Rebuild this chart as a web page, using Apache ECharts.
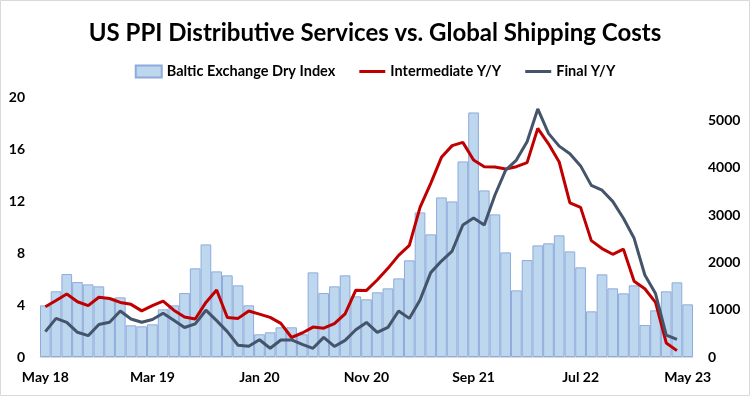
<!DOCTYPE html>
<html><head><meta charset="utf-8">
<script src="https://cdn.jsdelivr.net/npm/echarts@6/dist/echarts.min.js"></script>
<style>html,body{margin:0;padding:0;background:#fff}#c{width:750px;height:396px}</style>
</head><body><div id="c"></div>
<script>
const categories = [
"May 18","Jun 18","Jul 18","Aug 18","Sep 18","Oct 18","Nov 18","Dec 18",
"Jan 19","Feb 19","Mar 19","Apr 19","May 19","Jun 19","Jul 19","Aug 19","Sep 19","Oct 19","Nov 19","Dec 19",
"Jan 20","Feb 20","Mar 20","Apr 20","May 20","Jun 20","Jul 20","Aug 20","Sep 20","Oct 20","Nov 20","Dec 20",
"Jan 21","Feb 21","Mar 21","Apr 21","May 21","Jun 21","Jul 21","Aug 21","Sep 21","Oct 21","Nov 21","Dec 21",
"Jan 22","Feb 22","Mar 22","Apr 22","May 22","Jun 22","Jul 22","Aug 22","Sep 22","Oct 22","Nov 22","Dec 22",
"Jan 23","Feb 23","Mar 23","Apr 23","May 23"];
const balticDryIndex = [1093,1389,1755,1585,1536,1494,1250,1262,670,649,
 691,1008,1093,1353,1875,2382,1811,1727,1516,1093,
 480,522,628,628,480,1790,1353,1494,1727,1283,
 1220,1368,1452,1663,2044,3059,2594,3376,3291,4137,
 5173,3524,3017,2213,1410,2051,2361,2404,2573,2234,
 1896,966,1748,1452,1346,1516,676,987,1389,1579,1114];
const intermediateYY = [3.87,4.35,4.85,4.25,3.95,4.6,4.5,4.2,4.05,3.55,
 3.95,4.3,3.6,3.08,2.92,4.2,5.15,3.04,2.97,3.54,
 3.3,3.05,2.59,1.5,1.85,2.3,2.22,2.57,3.32,5.14,
 5.12,5.92,6.82,7.82,8.59,11.51,13.36,15.36,16.26,16.51,
 15.15,14.64,14.62,14.46,14.64,14.95,17.59,16.4,15.0,11.85,
 11.51,8.95,8.34,7.9,8.3,5.82,5.25,4.2,1.08,0.49];
const finalYY = [1.95,2.97,2.67,1.9,1.64,2.5,2.67,3.54,2.92,2.67,
 2.88,3.36,2.82,2.27,2.55,3.6,2.8,1.95,0.9,0.82,
 1.33,0.67,1.31,1.31,0.97,0.67,1.51,0.81,1.28,2.1,
 2.66,1.9,2.28,3.54,2.97,4.38,6.49,7.38,8.15,10.15,
 10.69,10.15,12.46,14.38,15.15,16.56,19.08,17.2,16.22,15.63,
 14.7,13.2,12.83,11.97,10.67,9.13,6.31,4.88,1.69,1.36];

const FONT = 'Lato';
const LINE_ICON = 'path://M0,0 L26,0 L26,3 L0,3 Z';
const chart = echarts.init(document.getElementById('c'), null, {renderer:'canvas'});
chart.setOption({
  animation:false,
  backgroundColor:'#fff',
  textStyle:{fontFamily:FONT},
  title:{text:'US PPI Distributive Services vs. Global Shipping Costs', left:'center', top:16,
    textStyle:{fontFamily:FONT, fontSize:24, fontWeight:'bold', color:'#000'}},
  graphic:[{type:'rect', shape:{x:0.5,y:0.5,width:749,height:395}, style:{fill:null, stroke:'#d9d9d9', lineWidth:1}, silent:true}],
  legend:{top:59, left:'center', itemGap:24, itemWidth:26, itemHeight:12, symbolKeepAspect:true,
    textStyle:{fontFamily:FONT, fontSize:14.5, fontWeight:'bold', color:'#000'},
    data:[{name:'Baltic Exchange Dry Index', icon:'rect'},
          {name:'Intermediate Y/Y', icon:LINE_ICON, itemStyle:{color:'#C00000', borderWidth:0}},
          {name:'Final Y/Y', icon:LINE_ICON, itemStyle:{color:'#44546A', borderWidth:0}}]},
  grid:{left:40, right:57, top:97, bottom:39},
  xAxis:{type:'category', data:categories, boundaryGap:true,
    axisLine:{lineStyle:{color:'#d9d9d9', width:1}},
    axisTick:{interval:9, alignWithLabel:false, length:5, lineStyle:{color:'#d9d9d9'}},
    axisLabel:{interval:9, margin:13, fontFamily:FONT, fontSize:14, fontWeight:'bold', color:'#000'}},
  yAxis:[
    {type:'value', min:0, max:20, interval:4, position:'left',
     splitLine:{show:false}, axisLine:{show:false}, axisTick:{show:false},
     axisLabel:{margin:15, fontFamily:FONT, fontSize:14, fontWeight:'bold', color:'#000'}},
    {type:'value', min:0, max:5500, interval:1000, position:'right',
     splitLine:{show:false}, axisLine:{show:false}, axisTick:{show:false},
     axisLabel:{margin:15, fontFamily:FONT, fontSize:14, fontWeight:'bold', color:'#000',
       formatter:function(v){return v>5000?'':String(v);}}}
  ],
  series:[
    {name:'Baltic Exchange Dry Index', type:'bar', yAxisIndex:1, data:balticDryIndex, barCategoryGap:'0%',
     itemStyle:{color:'#BDD7EE', borderColor:'#8FAADC', borderWidth:1}},
    {name:'Intermediate Y/Y', type:'line', yAxisIndex:0, data:intermediateYY, symbol:'none',
     lineStyle:{color:'#C00000', width:3}, itemStyle:{color:'#C00000'}},
    {name:'Final Y/Y', type:'line', yAxisIndex:0, data:finalYY, symbol:'none',
     lineStyle:{color:'#44546A', width:3}, itemStyle:{color:'#44546A'}}
  ]
});
</script></body></html>
